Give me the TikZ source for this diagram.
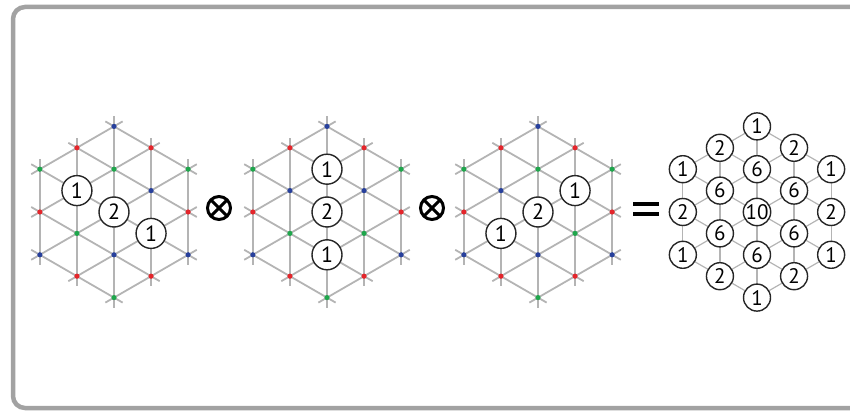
\documentclass[tikz,border=0pt]{standalone}
\usepackage{fontspec}
\setmainfont{PT Sans}
\usetikzlibrary{positioning}
\definecolor{gridgray}{HTML}{B4B4B4}
\definecolor{framegray}{HTML}{A2A2A2}
\definecolor{dot0}{HTML}{E4252B}
\definecolor{dot1}{HTML}{27409C}
\definecolor{dot2}{HTML}{1FA64C}
\tikzset{
  gridline/.style={draw=gridgray, line width=1.8pt},
  resline/.style={draw=gridgray, line width=1.2pt},
  wt/.style={
    circle, draw=black!85, fill=white, line width=1.4pt, inner sep=0pt,
    minimum size=30pt, font=\fontsize{22}{22}\selectfont
  },
  rwt/.style={wt, minimum size=27pt, font=\fontsize{21}{21}\selectfont},
  otimes/.style={
    circle, draw, line width=3pt, minimum size=23pt, inner sep=0pt,
    path picture={
      \draw[line width=3pt]
        (path picture bounding box.north west) -- (path picture bounding box.south east)
        (path picture bounding box.north east) -- (path picture bounding box.south west);
    }
  },
  eqbar/.style={line width=3.4pt, line cap=butt}
}
% lattice lines of one hexagon: centre, overshoot, style
\newcommand{\hexlattice}[3]{%
  \foreach \ang in {0,60,120}{
    \begin{scope}[shift={(#1)}, rotate=\ang]
      \foreach \c in {-2,...,2}{
        \pgfmathsetmacro\hh{(4-abs(\c))*21.4+#2}
        \draw[#3] (\c*37.07,-\hh) -- (\c*37.07,\hh);
      }
    \end{scope}
  }
}
% coloured lattice points of one hexagon
\newcommand{\hexdots}[1]{%
  \foreach \c in {-2,...,2}{
    \pgfmathtruncatemacro\rmax{4-abs(\c)}
    \foreach \k in {0,...,\rmax}{
      \pgfmathtruncatemacro\r{2*\k-\rmax}
      \pgfmathtruncatemacro\col{mod(\r+12,3)}
      \fill[dot\col] ([shift={(\c*37.07,\r*21.4)}]#1) circle (2.6);
    }
  }
}

\begin{document}
\begin{tikzpicture}[x=1pt, y=1pt]
  \clip (0,0) rectangle (850,412);
  \draw[framegray, line width=4.5pt, rounded corners=12pt] (13,4) rectangle (880,405);

  % --- hexagon centres ------------------------------------------------
  \coordinate (hA) at (114,200);
  \coordinate (hB) at (327,200);
  \coordinate (hC) at (538,200);
  \coordinate (hD) at (757,200);

  % --- lattices ---------------------------------------------------------
  \hexlattice{hA}{10}{gridline}
  \hexlattice{hB}{10}{gridline}
  \hexlattice{hC}{10}{gridline}
  \hexlattice{hD}{0}{resline}
  \hexdots{hA}
  \hexdots{hB}
  \hexdots{hC}

  % --- weights of the three factors -------------------------------------
  \node[wt] (a1) at ([shift={(-37.07,21.4)}]hA) {1};
  \node[wt] (a2) at (hA) {2};
  \node[wt] (a3) at ([shift={(37.07,-21.4)}]hA) {1};

  \node[wt] (b1) at ([shift={(0,42.8)}]hB) {1};
  \node[wt] (b2) at (hB) {2};
  \node[wt] (b3) at ([shift={(0,-42.8)}]hB) {1};

  \node[wt] (c1) at ([shift={(37.07,21.4)}]hC) {1};
  \node[wt] (c2) at (hC) {2};
  \node[wt] (c3) at ([shift={(-37.07,-21.4)}]hC) {1};

  % --- product -----------------------------------------------------------
  \foreach \c/\r/\v [count=\i] in {0/4/1, -1/3/2, 1/3/2, -2/2/1, 0/2/6, 2/2/1,
      -1/1/6, 1/1/6, -2/0/2, 0/0/10, 2/0/2, -1/-1/6, 1/-1/6, -2/-2/1, 0/-2/6,
      2/-2/1, -1/-3/2, 1/-3/2, 0/-4/1}
    \node[rwt] (res\i) at ([shift={(\c*37.07,\r*21.4)}]hD) {\v};

  % --- operators -----------------------------------------------------------
  \node[otimes] (op1) at (219,204) {};
  \node[otimes] (op2) at (432,204) {};
  \coordinate (eq) at (646,203);
  \draw[eqbar] ([shift={(-13,5)}]eq) -- ++(26,0);
  \draw[eqbar] ([shift={(-13,-5)}]eq) -- ++(26,0);
\end{tikzpicture}
\end{document}
